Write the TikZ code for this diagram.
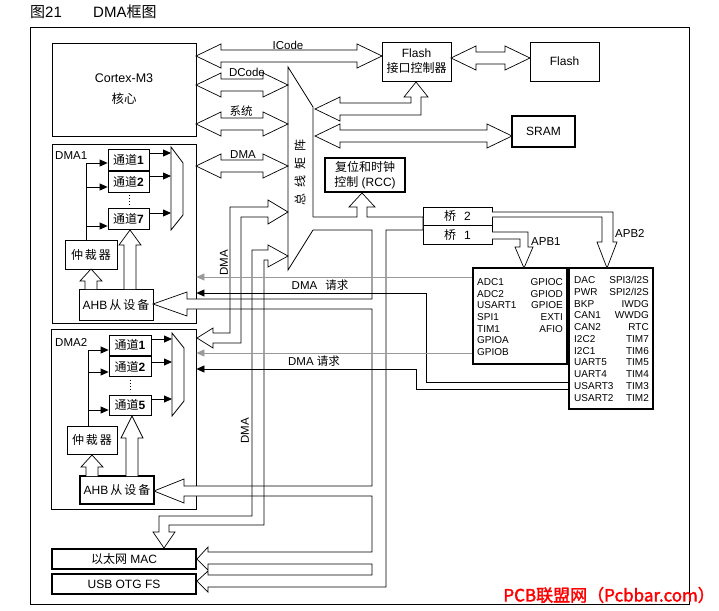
\documentclass[tikz,border=0pt]{standalone}
\usepackage{fontspec}
\setmainfont{Liberation Sans}
\newfontfamily\cjk{Noto Sans CJK SC}
\newfontfamily\wmfont[FakeBold=2]{Noto Sans CJK SC}
\usetikzlibrary{arrows.meta}
\tikzset{
  box/.style={
    draw,
    inner sep = 0pt,
    line width = 0.8pt,
    align = center,
    font = \fontsize{12}{15}\selectfont
  },
  boldbox/.style={
    box,
    line width = 1.6pt
  },
  bus/.style={
    draw,
    fill = white,
    line width = 0.7pt
  },
  sig/.style={
    line width = 0.8pt,
    -{Triangle[length=8pt,width=7pt]}
  },
  req/.style={
    line width = 0.7pt,
    -{Triangle[length=8pt,width=7pt]}
  },
  tag/.style={
    inner sep = 0pt,
    font = \fontsize{11.5}{13}\selectfont
  },
  reg/.style={
    inner sep = 0pt,
    font = \fontsize{10}{12}\selectfont
  }
}
% hollow bus, heads at both ends: left tip x, right tip x, y
\newcommand{\dbus}[3]{%
  \draw[bus] (#1,#3) -- (#1+25,#3-12) -- (#1+25,#3-6) -- (#2-25,#3-6)
    -- (#2-25,#3-12) -- (#2,#3) -- (#2-25,#3+12) -- (#2-25,#3+6)
    -- (#1+25,#3+6) -- (#1+25,#3+12) -- cycle;}
% hollow bus pointing up: x, tip y, head base y, foot y
\newcommand{\ubus}[4]{%
  \draw[bus] (#1-6,#4) -- (#1-6,#3) -- (#1-11,#3) -- (#1,#2)
    -- (#1+11,#3) -- (#1+6,#3) -- (#1+6,#4);}

\begin{document}
\begin{tikzpicture}[x=1pt,y=-1pt]
\useasboundingbox (0,0) rectangle (719,610);
\node[anchor=west, inner sep=0pt, font=\fontsize{15}{17}\selectfont] (fig) at (30,12) {{\cjk 图}21};
\node[anchor=west, inner sep=0pt, font=\fontsize{15}{17}\selectfont] (title) at (93,12) {DMA{\cjk 框图}};
\draw[line width=0.9pt] (30,27) rectangle (689,604);

% blocks
\node[box, minimum width=144pt, minimum height=93pt, font=\fontsize{12.5}{14}\selectfont] (cpu) at (124,89.5) {Cortex-M3\\[7pt]{\cjk 核心}};
\node[box, minimum width=144pt, minimum height=179pt] (dma1) at (124,233.5) {};
\node[box, minimum width=145pt, minimum height=180pt] (dma2) at (123.5,419) {};
\node[tag, anchor=west] (dma1n) at (55,156) {DMA1};
\node[tag, anchor=west] (dma2n) at (55,342) {DMA2};
\foreach \n/\y in {1/159.5,2/181.5,7/218.5}
  \node[box, minimum width=41pt, minimum height=21pt] (ca\n) at (128.5,\y) {{\cjk 通道}\textbf{\n}};
\foreach \n/\y in {1/345,2/366.5,5/405}
  \node[box, minimum width=42pt, minimum height=20pt] (cb\n) at (130,\y) {{\cjk 通道}\textbf{\n}};
\node[box, minimum width=52pt, minimum height=29pt] (arba) at (91,254.5) {{\cjk 仲\,裁\,器}};
\node[box, minimum width=74pt, minimum height=31pt] (ahba) at (116,304.5) {AHB\,{\cjk 从\,设\,备}};
\node[box, minimum width=50pt, minimum height=28pt] (arbb) at (92,440) {{\cjk 仲\,裁\,器}};
\node[boldbox, minimum width=74pt, minimum height=28pt] (ahbb) at (117,490) {AHB\,{\cjk 从\,设\,备}};
\node[boldbox, minimum width=144pt, minimum height=20pt] (mac) at (124,559) {{\cjk 以太网} MAC};
\node[boldbox, minimum width=144pt, minimum height=20pt] (usb) at (124,584) {USB OTG FS};
\node[box, minimum width=69pt, minimum height=39pt] (fctrl) at (416.5,61.5) {Flash\\{\cjk 接口控制器}};
\node[box, minimum width=69pt, minimum height=39pt] (flash) at (564.5,61.5) {Flash};
\node[boldbox, minimum width=63pt, minimum height=31pt] (sram) at (543.5,131.5) {SRAM};
\node[boldbox, minimum width=80pt, minimum height=34pt] (rcc) at (365,175) {{\cjk 复位和时钟}\\{\cjk 控制} (RCC)};
\node[box, minimum width=69pt, minimum height=18pt] (br2) at (457.5,216) {{\cjk 桥}\hspace{8pt}2};
\node[box, minimum width=69pt, minimum height=19pt] (br1) at (457.5,234.5) {{\cjk 桥}\hspace{8pt}1};
\node[boldbox, minimum width=94pt, minimum height=96pt] (apb1) at (520,316) {};
\node[boldbox, minimum width=84pt, minimum height=141pt] (apb2) at (611,338.5) {};

% peripherals
\foreach \t [count=\i] in {ADC1,ADC2,USART1,SPI1,TIM1,GPIOA,GPIOB}
  \node[reg, anchor=west] (pa\i) at (477,270.3+11.7*\i) {\t};
\foreach \t [count=\i] in {GPIOC,GPIOD,GPIOE,EXTI,AFIO}
  \node[reg, anchor=east] (pb\i) at (563,270.3+11.7*\i) {\t};
\foreach \t [count=\i] in {DAC,PWR,BKP,CAN1,CAN2,I2C2,I2C1,UART5,UART4,USART3,USART2}
  \node[reg, anchor=west] (pc\i) at (574,268.2+11.8*\i) {\t};
\foreach \t [count=\i] in {{SPI3/I2S},{SPI2/I2S},IWDG,WWDG,RTC,TIM7,TIM6,TIM5,TIM4,TIM3,TIM2}
  \node[reg, anchor=east] (pd\i) at (649,268.2+11.8*\i) {\t};

% channels and muxes
\draw[line width=0.8pt] (86,240) -- (86,163);
\foreach \n/\y in {1/163,2/187,7/226}
  \draw[sig] (86,\y) -- (ca\n.west |- 0,\y);
\foreach \n/\y in {1/153,2/176,7/213}
  \draw[sig] (ca\n.east |- 0,\y) -- (171,\y);
\draw[line width=0.8pt] (171,147) -- (183,163) -- (183,215) -- (171,230) -- cycle;
\draw[dotted, line width=1pt] (129,195) -- (129,206);
\draw[line width=0.8pt] (88,426) -- (88,350);
\foreach \n/\y in {1/350,2/372,5/410}
  \draw[sig] (88,\y) -- (cb\n.west |- 0,\y);
\foreach \n/\y in {1/339,2/362,5/399}
  \draw[sig] (cb\n.east |- 0,\y) -- (172,\y);
\draw[line width=0.8pt] (172,333) -- (184,348) -- (184,401) -- (172,416) -- cycle;
\draw[dotted, line width=1pt] (130,380) -- (130,392);
\ubus{91}{269}{281}{289}
\ubus{130}{230}{245}{289}
\ubus{92}{455}{467}{476}
\ubus{132}{416}{438}{476}

% bus matrix
\draw[line width=0.8pt] (313,217) -- (313,107) -- (288,67) -- (288,270) -- (313,230);
\node[rotate=90, inner sep=0pt, font=\cjk\fontsize{12}{14}\selectfont] (bm) at (300,172) {总\hspace{6pt}线\hspace{6pt}矩\hspace{6pt}阵};

% buses
\dbus{196}{382}{56}
\dbus{196}{288}{85}
\dbus{196}{288}{124}
\dbus{196}{288}{166}
\dbus{451}{530}{58}
\dbus{315}{512}{136}
\draw[bus] (315,109) -- (340,97) -- (340,103) -- (411,103) -- (411,97) -- (404,97) -- (416,82)
  -- (428,97) -- (421,97) -- (421,115) -- (340,115) -- (340,121) -- cycle;
\draw[bus] (313,217) -- (357,217) -- (357,207) -- (349,207) -- (362,193) -- (375,207) -- (367,207)
  -- (367,217) -- (423,217) -- (423,230) -- (386,230) -- (386,587) -- (208,587) -- (208,592)
  -- (197,581) -- (208,571) -- (208,575) -- (372,575) -- (372,564) -- (208,564) -- (208,570)
  -- (197,559) -- (208,547) -- (208,552) -- (372,552) -- (372,496) -- (184,496) -- (184,503)
  -- (154,491) -- (184,479) -- (184,486) -- (372,486) -- (372,309) -- (187,309) -- (187,316)
  -- (153,304) -- (187,292) -- (187,299) -- (372,299) -- (372,230) -- (313,230);
\draw[bus, fill=none] (288,212) -- (268,224) -- (268,217) -- (241,217) -- (241,343) -- (213,343)
  -- (213,348) -- (197,338) -- (213,328) -- (213,333) -- (230,333) -- (230,207) -- (268,207)
  -- (268,200) -- cycle;
\draw[bus, fill=none] (288,256) -- (268,245) -- (268,250) -- (252,250) -- (252,516) -- (159,516)
  -- (159,532) -- (153,532) -- (164,548) -- (175,532) -- (169,532) -- (169,525) -- (264,525)
  -- (264,260) -- (268,260) -- (268,267) -- cycle;
\draw[bus] (492,232) -- (528,232) -- (528,247) -- (533,247) -- (524,268) -- (515,247) -- (520,247)
  -- (520,239) -- (492,239);
\draw[bus] (492,212) -- (613,212) -- (613,242) -- (617,242) -- (607,268) -- (597,242) -- (602,242)
  -- (602,217) -- (492,217);

% DMA requests
\draw[req, gray!80] (apb1.west |- 0,277) -- (dma1.east |- 0,277);
\draw[req] (apb2.west |- 0,382) -| (426,293) -- (dma1.east |- 0,293);
\draw[req, gray!80] (apb1.west |- 0,353) -- (dma2.east |- 0,353);
\draw[req] (apb2.west |- 0,389) -| (416,369) -- (dma2.east |- 0,369);

% labels
\node[tag] (icode) at (288,45) {ICode};
\node[tag] (dcode) at (247,72) {DCode};
\node[tag] (sys) at (241,111) {{\cjk 系统}};
\node[tag] (dmab) at (243,155) {DMA};
\node[tag, rotate=90] (dmav1) at (224,263) {DMA};
\node[tag, rotate=90] (dmav2) at (245,431) {DMA};
\node[tag] (rq1) at (320,285) {DMA\hspace{8pt}{\cjk 请求}};
\node[tag] (rq2) at (314,361) {DMA {\cjk 请求}};
\node[tag, anchor=west] (apb1n) at (531,242) {APB1};
\node[tag, anchor=west] (apb2n) at (615,233) {APB2};
\node[anchor=east, inner sep=0pt, text=red, font=\wmfont\fontsize{17}{19}\selectfont] (wm) at (715,595) {PCB联盟网（Pcbbar.com）};
\end{tikzpicture}
\end{document}
